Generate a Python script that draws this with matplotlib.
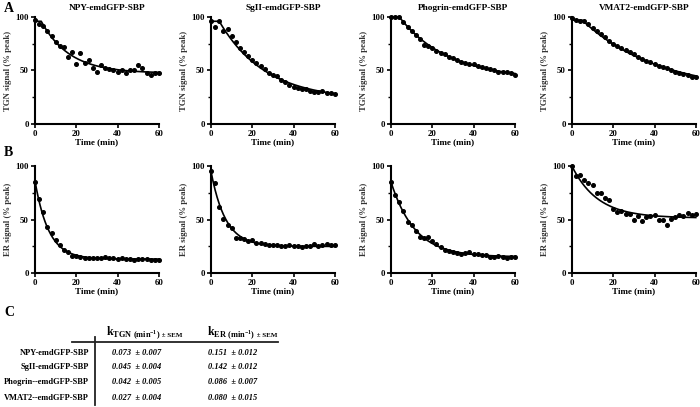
import numpy as np
import matplotlib
matplotlib.use("Agg")
import matplotlib.pyplot as plt

plt.rcParams["font.family"] = "Liberation Serif"
plt.rcParams["mathtext.fontset"] = "custom"
plt.rcParams["mathtext.rm"] = "Liberation Serif:bold"
plt.rcParams["mathtext.bf"] = "Liberation Serif:bold"

# time points (min)
time = np.arange(0, 61, 2)

constructs = ["NPY-emdGFP-SBP", "SgII-emdGFP-SBP", "Phogrin-emdGFP-SBP", "VMAT2-emdGFP-SBP"]
row_labels = ["NPY-emdGFP-SBP", "SgII-emdGFP-SBP", "Phogrin--emdGFP-SBP", "VMAT2--emdGFP-SBP"]

# TGN signal (% peak), panel A
tgn_npy = [97, 93, 92, 87, 82, 77, 73, 72, 63, 67, 56, 66, 57, 60, 52, 49,
           55, 52, 51, 50, 49, 50, 48, 50, 50, 55, 52, 48, 46, 48, 48]
tgn_sgii = [96, 91, 96, 87, 89, 82, 77, 71, 67, 64, 60, 57, 54, 51, 48, 46,
            45, 41, 39, 36, 35, 34, 33, 33, 31, 30, 30, 31, 29, 29, 28]
tgn_phogrin = [100, 100, 100, 95, 91, 87, 83, 79, 74, 73, 71, 68, 66, 65, 63, 62,
               60, 58, 57, 56, 56, 54, 53, 52, 51, 50, 49, 49, 49, 48, 46]
tgn_vmat2 = [99, 97, 96, 96, 93, 90, 87, 84, 81, 78, 75, 73, 71, 69, 67, 65,
             63, 61, 59, 58, 56, 54, 53, 52, 50, 49, 48, 47, 46, 44, 44]

# ER signal (% peak), panel B
er_npy = [85, 69, 57, 43, 37, 31, 26, 22, 20, 16, 16, 15, 14, 14, 14, 14,
          14, 15, 14, 14, 13, 14, 13, 13, 12, 13, 13, 13, 12, 12, 12]
er_sgii = [95, 84, 62, 51, 45, 42, 33, 33, 32, 30, 31, 28, 28, 27, 26, 26,
           26, 25, 25, 26, 25, 25, 24, 25, 25, 27, 25, 26, 27, 26, 26]
er_phogrin = [85, 73, 66, 58, 48, 45, 39, 34, 33, 34, 30, 27, 24, 22, 21, 20,
              19, 18, 19, 20, 18, 18, 17, 17, 15, 15, 16, 15, 14, 15, 15]
er_vmat2 = [100, 91, 92, 87, 84, 82, 75, 75, 70, 68, 60, 57, 58, 55, 55, 50,
            53, 49, 52, 53, 54, 50, 50, 45, 51, 52, 54, 53, 56, 54, 55]

# rate constants and SEM (panel C)
k_tgn = [0.073, 0.045, 0.042, 0.027]
k_tgn_sem = [0.007, 0.004, 0.005, 0.004]
k_er = [0.151, 0.142, 0.086, 0.080]
k_er_sem = [0.012, 0.012, 0.007, 0.015]

# fit settings: start of the decay and the starting level (plateau followed by one phase decay)
tgn_t0 = [3, 4, 4, 5]
tgn_y0 = [96, 96, 100, 97]
er_t0 = [0, 0, 0, 0]
er_y0 = [86, 95, 85, 100]


def decay_fit(t, y, k, t0, y0):
    """one phase decay with k and y0 fixed, plateau by least squares"""
    t = np.asarray(t, float)
    y = np.asarray(y, float)
    m = t >= t0
    e = np.exp(-k * (t[m] - t0))
    plat = np.sum((y[m] - y0 * e) * (1 - e)) / np.sum((1 - e) ** 2)
    tt = np.linspace(0, 60, 300)
    ee = np.exp(-k * np.clip(tt - t0, 0, None))
    return tt, plat + (y0 - plat) * ee


def style_axis(ax, ylabel):
    ax.set_xlim(0, 60)
    ax.set_ylim(0, 100)
    ax.set_xticks([0, 20, 40, 60])
    ax.set_yticks([0, 50, 100])
    ax.set_yticks([25, 75], minor=True)
    for s in ["top", "right"]:
        ax.spines[s].set_visible(False)
    for s in ["left", "bottom"]:
        ax.spines[s].set_linewidth(1.5)
    ax.tick_params(which="major", direction="out", length=3, width=1.2,
                   labelsize=6.3, pad=1.5)
    ax.tick_params(which="minor", direction="out", length=2, width=1.0)
    for lab in ax.get_xticklabels() + ax.get_yticklabels():
        lab.set_fontweight("bold")
    ax.set_xlabel("Time (min)", fontsize=6.5, fontweight="bold", labelpad=0)
    ax.set_ylabel(ylabel, fontsize=6.3, fontweight="bold", labelpad=2, color="#333333")


fig = plt.figure(figsize=(7, 4.07), dpi=100)

lefts = [0.050, 0.3014, 0.5586, 0.817]
width = 0.177
height = 0.263
tgn_data = [tgn_npy, tgn_sgii, tgn_phogrin, tgn_vmat2]
er_data = [er_npy, er_sgii, er_phogrin, er_vmat2]

for i in range(4):
    ax = fig.add_axes([lefts[i], 0.6953, width, height])
    tt, yy = decay_fit(time, tgn_data[i], k_tgn[i], tgn_t0[i], tgn_y0[i])
    ax.plot(tt, yy, color="black", lw=1.2, clip_on=False)
    ax.plot(time, tgn_data[i], "o", color="black", ms=2.6, clip_on=False)
    style_axis(ax, "TGN signal (% peak)")
    ax.set_title(constructs[i], fontsize=6.7, fontweight="bold", x=0.58, pad=5)

    ax = fig.add_axes([lefts[i], 0.329, width, height])
    tt, yy = decay_fit(time, er_data[i], k_er[i], er_t0[i], er_y0[i])
    ax.plot(tt, yy, color="black", lw=1.2, clip_on=False)
    ax.plot(time, er_data[i], "o", color="black", ms=2.6, clip_on=False)
    style_axis(ax, "ER signal (% peak)")

# overlay in pixel coordinates for letters and the table
ov = fig.add_axes([0, 0, 1, 1], zorder=-1)
ov.set_xlim(0, 700)
ov.set_ylim(407, 0)
ov.axis("off")

for letter, y in [("A", 8), ("B", 153), ("C", 313)]:
    ov.text(4, y, letter, fontsize=10, fontweight="bold", va="center", ha="left")

# table C
ov.plot([72, 278], [342, 342], color="#222222", lw=1.3)
ov.plot([95, 95], [337, 405], color="#222222", lw=1.3)

for hx, name in [(106, "TGN"), (207, "ER")]:
    h = ov.text(hx, 335, r"$\mathbf{k}_{\mathrm{" + name + r"\ (min^{-1})}}$", fontsize=8.5,
                ha="left", va="baseline")
    ov.annotate(" ± SEM", xy=(1, 0), xycoords=h, xytext=(0, 1.8), textcoords="offset points",
                fontsize=5, fontweight="bold", ha="left", va="bottom")

row_y = [353, 367, 382, 398]
for i in range(4):
    ov.text(89, row_y[i], row_labels[i], fontsize=6, fontweight="bold",
            ha="right", va="center")
    ov.text(112, row_y[i], "{:.3f}  ± {:.3f}".format(k_tgn[i], k_tgn_sem[i]),
            fontsize=6, fontweight="bold", style="italic", ha="left", va="center")
    ov.text(208, row_y[i], "{:.3f}  ± {:.3f}".format(k_er[i], k_er_sem[i]),
            fontsize=6, fontweight="bold", style="italic", ha="left", va="center")

fig.savefig("out.png", dpi=100)
